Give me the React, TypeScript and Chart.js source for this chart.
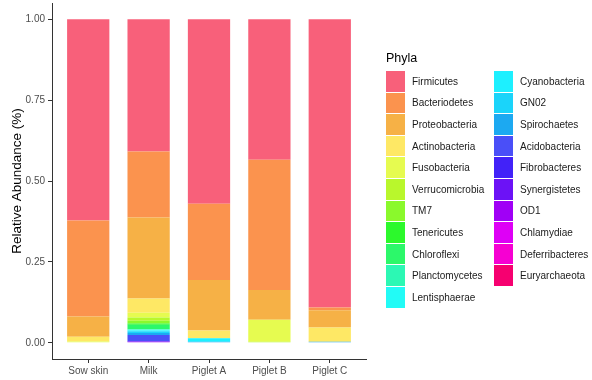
import React, { useEffect, useRef } from "react";
import { Chart, registerables } from "chart.js";

Chart.register(...registerables);

const FONT = "'Liberation Sans', Arial, Helvetica, sans-serif";

const categories = ["Sow skin", "Milk", "Piglet A", "Piglet B", "Piglet C"];
const yTicks = [0, 0.25, 0.5, 0.75, 1];

const phyla = [
  "Firmicutes", "Bacteriodetes", "Proteobacteria", "Actinobacteria", "Fusobacteria",
  "Verrucomicrobia", "TM7", "Tenericutes", "Chloroflexi", "Planctomycetes",
  "Lentisphaerae", "Cyanobacteria", "GN02", "Spirochaetes", "Acidobacteria",
  "Fibrobacteres", "Synergistetes", "OD1", "Chlamydiae", "Deferribacteres", "Euryarchaeota",
];

const phylaColors = [
  "#F8607A", "#FB934E", "#F6B146", "#FEE865", "#E6FB50",
  "#B9F72C", "#8AF92C", "#2CF92C", "#2CF86A", "#2CF8B4",
  "#22FBF6", "#1DF0FF", "#1AD4FA", "#1CA9F1", "#4A4FF8",
  "#4222F8", "#6C12F6", "#A000F6", "#DE00F6", "#F600D2", "#F60070",
];

// values per phylum: [Sow skin, Milk, Piglet A, Piglet B, Piglet C]
const firmicutes = [0.622, 0.409, 0.57, 0.434, 0.891];
const bacteriodetes = [0.297, 0.204, 0.236, 0.403, 0.008];
const proteobacteria = [0.062, 0.25, 0.156, 0.092, 0.054];
const actinobacteria = [0.015, 0.044, 0.023, 0, 0.044];
const fusobacteria = [0.002, 0.015, 0.001, 0.068, 0];
const verrucomicrobia = [0.002, 0.01, 0, 0.003, 0];
const tm7 = [0, 0.008, 0, 0, 0];
const tenericutes = [0, 0.004, 0, 0, 0];
const chloroflexi = [0, 0.014, 0, 0, 0];
const planctomycetes = [0, 0.002, 0, 0, 0];
const lentisphaerae = [0, 0.002, 0, 0, 0];
const cyanobacteria = [0, 0.002, 0.011, 0, 0];
const gn02 = [0, 0.006, 0, 0, 0];
const spirochaetes = [0, 0.006, 0.003, 0, 0.003];
const acidobacteria = [0, 0.018, 0, 0, 0];
const fibrobacteres = [0, 0.002, 0, 0, 0];
const synergistetes = [0, 0.001, 0, 0, 0];
const od1 = [0, 0.001, 0, 0, 0];
const chlamydiae = [0, 0.002, 0, 0, 0];
const deferribacteres = [0, 0, 0, 0, 0];
const euryarchaeota = [0, 0, 0, 0, 0];

const series = [
  firmicutes, bacteriodetes, proteobacteria, actinobacteria, fusobacteria,
  verrucomicrobia, tm7, tenericutes, chloroflexi, planctomycetes,
  lentisphaerae, cyanobacteria, gn02, spirochaetes, acidobacteria,
  fibrobacteres, synergistetes, od1, chlamydiae, deferribacteres, euryarchaeota,
];

export default function App() {
  const ref = useRef<HTMLCanvasElement | null>(null);

  useEffect(() => {
    if (!ref.current) return;
    const datasets = phyla
      .map((name, i) => ({
        label: name,
        data: series[i].map((v, j) => ({ x: j, y: v })),
        backgroundColor: phylaColors[i],
        borderWidth: 0,
        barPercentage: 0.7,
        categoryPercentage: 1,
      }))
      .reverse();

    const chart = new Chart(ref.current, {
      type: "bar",
      data: { datasets },
      options: {
        animation: false,
        responsive: false,
        maintainAspectRatio: false,
        layout: { padding: { left: 0, top: 3, right: 226, bottom: 0 } },
        plugins: { legend: { display: false }, tooltip: { enabled: false } },
        scales: {
          x: {
            type: "linear",
            stacked: true,
            offset: false,
            min: -0.6,
            max: 4.6,
            afterBuildTicks: (s: any) => {
              s.ticks = categories.map((_, i) => ({ value: i }));
            },
            afterFit: (s: any) => {
              s.height = 21;
              s.paddingLeft = 0;
              s.paddingRight = 0;
            },
            ticks: {
              callback: (v: any) => categories[Math.round(Number(v))],
              font: { size: 10, family: FONT },
              color: "#4D4D4D",
              padding: 2,
              autoSkip: false,
              maxRotation: 0,
            },
            grid: { offset: false, drawOnChartArea: false, drawTicks: true, tickLength: 4, color: "#333333", lineWidth: 1 },
            border: { display: true, color: "#333333", width: 1 },
          },
          y: {
            type: "linear",
            stacked: true,
            min: -0.05,
            max: 1.05,
            afterBuildTicks: (s: any) => {
              s.ticks = yTicks.map((v) => ({ value: v }));
            },
            afterFit: (s: any) => {
              s.width = 52;
              s.paddingTop = 0;
              s.paddingBottom = 0;
            },
            ticks: {
              callback: (v: any) => Number(v).toFixed(2),
              font: { size: 10, family: FONT },
              color: "#4D4D4D",
              padding: 3,
            },
            grid: { drawOnChartArea: false, drawTicks: true, tickLength: 4, color: "#333333", lineWidth: 1 },
            border: { display: true, color: "#333333", width: 1 },
            title: {
              display: true,
              text: "Relative Abundance (%)",
              color: "#000000",
              font: { size: 13.5, family: FONT },
              padding: { top: 9.5, bottom: 0 },
            },
          },
        },
      },
    });
    return () => chart.destroy();
  }, []);

  return (
    <div style={{ position: "absolute", left: 0, top: 0, width: 592, height: 380, background: "#fff", fontFamily: FONT }}>
      <canvas ref={ref} width={592} height={380} style={{ position: "absolute", left: 0, top: 0 }} />
      <div style={{ position: "absolute", left: 386, top: 50, fontSize: 12.5, lineHeight: "16px", color: "#000" }}>Phyla</div>
      {phyla.map((name, i) => {
        const col = i < 11 ? 0 : 1;
        const row = col ? i - 11 : i;
        return (
          <div
            key={name}
            style={{
              position: "absolute",
              left: col ? 494 : 386,
              top: 71 + row * 21.6,
              height: 20.6,
              display: "flex",
              alignItems: "center",
              whiteSpace: "nowrap",
            }}
          >
            <div style={{ width: 19, height: 20.6, background: phylaColors[i] }} />
            <span style={{ marginLeft: 7, fontSize: 10, color: "#1A1A1A" }}>{name}</span>
          </div>
        );
      })}
    </div>
  );
}
